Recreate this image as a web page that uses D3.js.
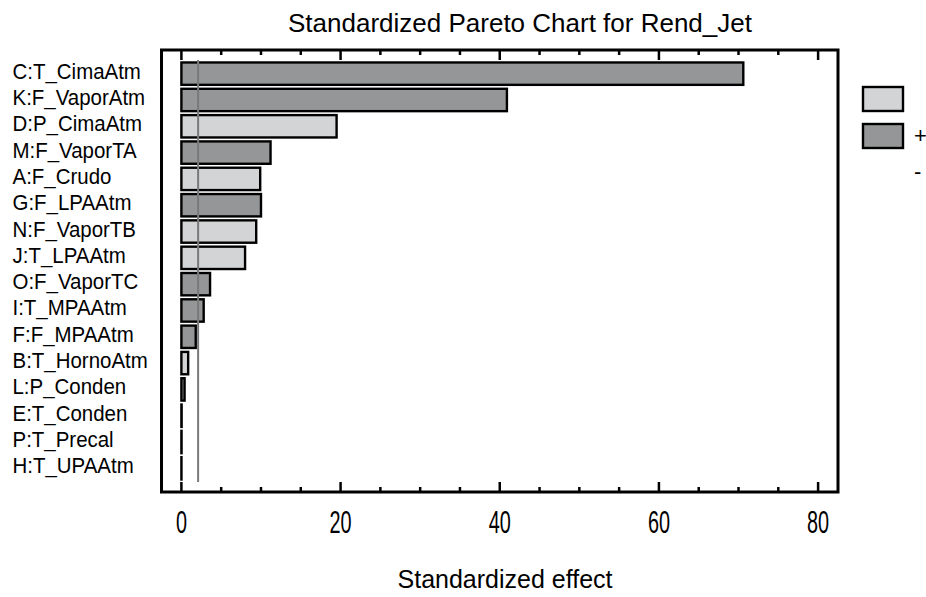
<!DOCTYPE html>
<html>
<head>
<meta charset="utf-8">
<script src="https://cdn.jsdelivr.net/npm/d3@7"></script>
<style>
  body { margin: 0; background: #fff; }
  text { font-family: "Liberation Sans", Arial, sans-serif; fill: #000; }
</style>
</head>
<body>
<div id="chart"></div>
<script>
// effect names, top to bottom
const factors = ["C:T_CimaAtm", "K:F_VaporAtm", "D:P_CimaAtm", "M:F_VaporTA", "A:F_Crudo",
  "G:F_LPAAtm", "N:F_VaporTB", "J:T_LPAAtm", "O:F_VaporTC", "I:T_MPAAtm", "F:F_MPAAtm",
  "B:T_HornoAtm", "L:P_Conden", "E:T_Conden", "P:T_Precal", "H:T_UPAAtm"];
// standardized effects (absolute)
const effects = [70.6, 40.9, 19.5, 11.2, 9.9, 10.0, 9.4, 8.0, 3.6, 2.8, 1.8, 0.85, 0.4, 0.03, 0.02, 0.01];
// sign of each effect
const signs = ["-", "-", "+", "-", "+", "-", "+", "+", "-", "-", "-", "+", "-", "-", "-", "-"];
const xTicks = [0, 20, 40, 60, 80];
const critical = 2.1;
const legendKeys = ["+", "-"];

const data = factors.map((f, i) => ({ name: f, value: effects[i], sign: signs[i] }));
const color = { "+": "#d3d4d6", "-": "#959697" };

const W = 926, H = 597;
const svg = d3.select("#chart").append("svg").attr("width", W).attr("height", H);

const mLeft = 161.5, mRight = 838, mTop = 50, mBottom = 492;

const x = d3.scaleLinear().domain([-2.5, 82.5]).range([mLeft, mRight]);
const y = d3.scaleBand().domain(factors).range([60.5, 481.5]).paddingInner(0.15).paddingOuter(0.075);

// title
svg.append("text")
   .attr("x", 520).attr("y", 32)
   .attr("text-anchor", "middle")
   .style("font-size", "26px")
   .text("Standardized Pareto Chart for Rend_Jet");

// bars
svg.selectAll("rect.bar")
   .data(data)
   .enter()
   .append("rect")
   .attr("class", "bar")
   .attr("x", x(0))
   .attr("y", d => y(d.name))
   .attr("width", d => x(d.value) - x(0))
   .attr("height", y.bandwidth())
   .attr("fill", d => color[d.sign])
   .attr("stroke", "#000")
   .attr("stroke-width", 2.4);

// critical line
svg.append("line")
   .attr("x1", x(critical)).attr("x2", x(critical))
   .attr("y1", 60).attr("y2", 482)
   .attr("stroke", "#7a7a7a")
   .attr("stroke-width", 2);

// frame
svg.append("rect")
   .attr("x", mLeft).attr("y", mTop)
   .attr("width", mRight - mLeft).attr("height", mBottom - mTop)
   .attr("fill", "none").attr("stroke", "#000").attr("stroke-width", 3);

// ticks (inward on bottom and top)
const minor = d3.range(0, 81, 5);
[mBottom, mTop].forEach((yy, k) => {
  const dir = k === 0 ? -1 : 1;
  svg.append("g").selectAll("line")
     .data(minor)
     .enter()
     .append("line")
     .attr("x1", d => x(d)).attr("x2", d => x(d))
     .attr("y1", yy)
     .attr("y2", d => yy + dir * (d % 20 === 0 ? 10 : 5))
     .attr("stroke", "#000").attr("stroke-width", 2.5);
});

// x tick labels (condensed)
svg.append("g").selectAll("text")
   .data(xTicks)
   .enter()
   .append("text")
   .attr("transform", d => `translate(${x(d)},533) scale(0.62,1)`)
   .attr("text-anchor", "middle")
   .style("font-size", "32px")
   .text(d => d);

// y labels
svg.append("g").selectAll("text")
   .data(factors)
   .enter()
   .append("text")
   .attr("transform", d => `translate(12.5,${y(d) + y.bandwidth() / 2 + 5}) scale(0.93,1)`)
   .style("font-size", "22px")
   .text(d => d);

// x axis title
svg.append("text")
   .attr("x", 505).attr("y", 588)
   .attr("text-anchor", "middle")
   .style("font-size", "25px")
   .text("Standardized effect");

// legend
const lg = svg.append("g");
lg.selectAll("rect")
  .data(legendKeys)
  .enter()
  .append("rect")
  .attr("x", 863)
  .attr("y", (d, i) => 87 + i * 37)
  .attr("width", 40).attr("height", 24)
  .attr("fill", d => color[d])
  .attr("stroke", "#000").attr("stroke-width", 2.4);
lg.selectAll("text")
  .data(legendKeys)
  .enter()
  .append("text")
  .attr("x", 914)
  .attr("y", (d, i) => 143 + i * 36)
  .style("font-size", "22px")
  .text(d => d);
</script>
</body>
</html>
